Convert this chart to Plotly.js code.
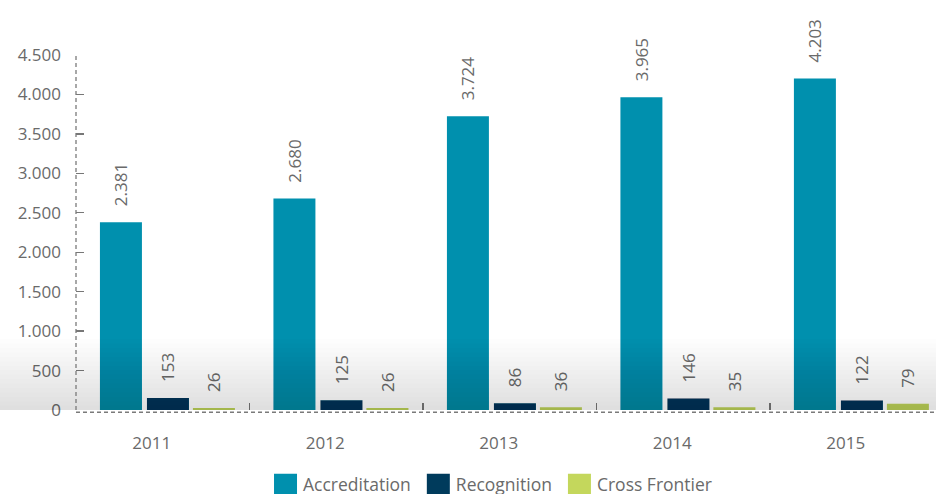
<!DOCTYPE html>
<html>
<head>
<meta charset="utf-8">
<script src="https://cdn.plot.ly/plotly-3.0.1.min.js"></script>
<style>
  html, body { margin: 0; padding: 0; background: #ffffff; }
  #chart { width: 936px; height: 494px; }
</style>
</head>
<body>
<div id="chart"></div>
<script>
// ---- data ----
const years = ['2011', '2012', '2013', '2014', '2015'];
const accreditation = [2381, 2680, 3724, 3965, 4203];
const recognition = [153, 125, 86, 146, 122];
const crossFrontier = [26, 26, 36, 35, 79];
const seriesNames = ['Accreditation', 'Recognition', 'Cross Frontier'];

// ---- styling ----
const colors = ['#0090ae', '#003b5c', '#c4d75c'];
const font = 'Open Sans, Arial, sans-serif';
const textGray = '#6a6a6a';
const barWidth = 0.242;
const offsets = [-0.362, -0.091, 0.174];

const labelTpl = '\u2002\u00a0%{y:,}';

function barTrace(name, values, i) {
  return {
    type: 'bar',
    name: name,
    x: years,
    y: values,
    width: barWidth,
    offset: offsets[i],
    marker: { color: colors[i], line: { width: 0 } },
    texttemplate: labelTpl,
    textposition: 'outside',
    textangle: -90,
    constraintext: 'none',
    cliponaxis: false,
    textfont: { family: font, size: 17, color: textGray },
    hoverinfo: 'x+y+name'
  };
}

const data = [
  barTrace(seriesNames[0], accreditation, 0),
  barTrace(seriesNames[1], recognition, 1),
  barTrace(seriesNames[2], crossFrontier, 2)
];

// soft grey shadow band at the bottom of the plot
const shapes = [];
const steps = 16;
const topVal = 900;
for (let k = 1; k <= steps; k++) {
  shapes.push({
    type: 'rect', layer: 'above',
    xref: 'paper', yref: 'y',
    x0: -0.09, x1: 1.0,
    y0: 0, y1: topVal * k / steps,
    fillcolor: 'rgba(0,0,0,0.0066)',
    line: { width: 0 }
  });
}
// dashed axis lines
shapes.push({
  type: 'line', layer: 'above', xref: 'paper', yref: 'y',
  x0: 0, x1: 0, y0: 0, y1: 4500,
  line: { color: '#7a7a7a', width: 1.3, dash: '4px,3px' }
});
shapes.push({
  type: 'line', layer: 'above', xref: 'paper', yref: 'paper',
  x0: 0, x1: 1, y0: -0.006, y1: -0.006,
  line: { color: '#7a7a7a', width: 1.5, dash: '4px,3px' }
});

const layout = {
  width: 936,
  height: 494,
  margin: { l: 76, r: 0, t: 55, b: 84, pad: 0, autoexpand: false },
  paper_bgcolor: '#ffffff',
  plot_bgcolor: '#ffffff',
  separators: ',.',
  barmode: 'overlay',
  showlegend: true,
  font: { family: font, color: textGray, size: 17 },
  xaxis: {
    type: 'category',
    range: [-0.5, 4.457],
    tickson: 'boundaries',
    ticks: 'inside',
    ticklen: 7,
    tickwidth: 1.3,
    tickcolor: '#777777',
    showline: false,
    showgrid: false,
    zeroline: false,
    ticklabelshift: -11,
    ticklabelstandoff: 21,
    tickfont: { family: font, size: 17, color: textGray },
    fixedrange: true
  },
  yaxis: {
    range: [0, 4500],
    dtick: 500,
    tick0: 0,
    tickformat: ',',
    ticks: 'inside',
    ticklen: 8,
    tickwidth: 1.3,
    tickcolor: '#777777',
    showline: false,
    showgrid: false,
    zeroline: false,
    ticklabelstandoff: 14,
    tickfont: { family: font, size: 17, color: textGray },
    fixedrange: true
  },
  legend: {
    orientation: 'h',
    xref: 'container',
    yref: 'container',
    x: 0.281, xanchor: 'left',
    y: 0.057, yanchor: 'top',
    font: { family: font, size: 17.5, color: textGray },
    itemclick: false,
    itemdoubleclick: false,
    bgcolor: 'rgba(0,0,0,0)'
  },
  shapes: shapes
};

function bigSwatches() {
  document.querySelectorAll('.legend .legendpoints path').forEach(function (p) {
    p.setAttribute('d', 'M14,14H-9V-10H14Z');
  });
}

Plotly.newPlot('chart', data, layout, { displayModeBar: false, staticPlot: true }).then(function () {
  bigSwatches();
  setTimeout(bigSwatches, 0);
});
</script>
</body>
</html>
